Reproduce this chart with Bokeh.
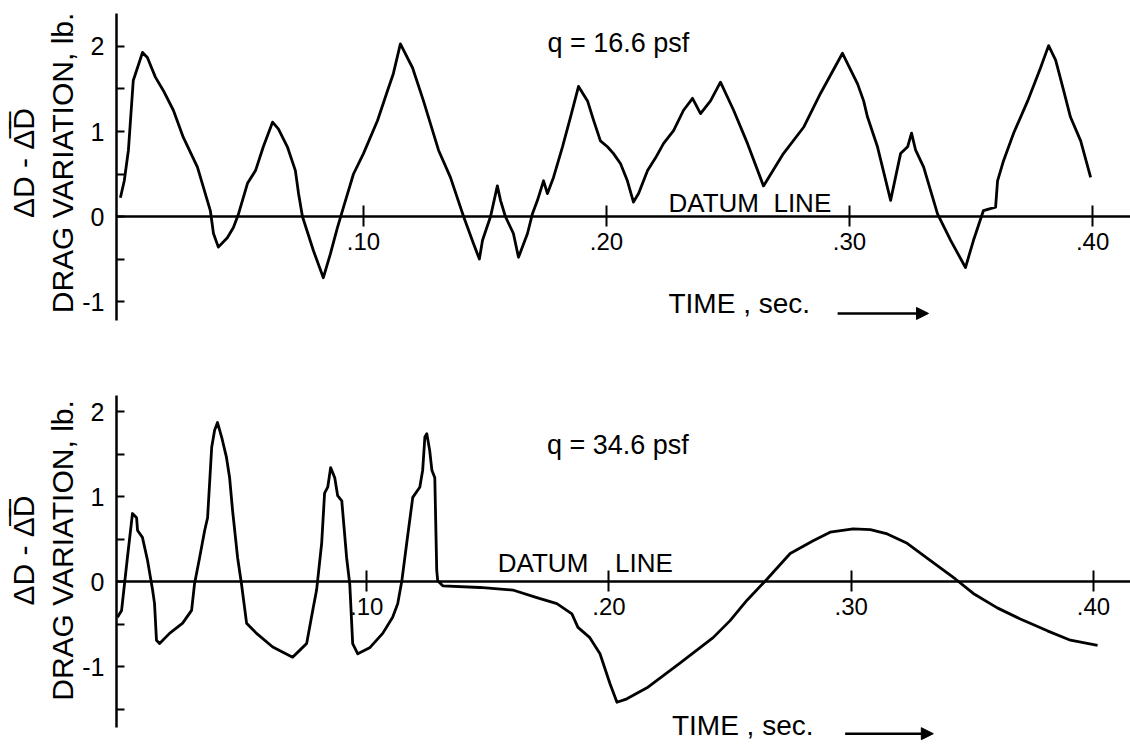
from bokeh.plotting import figure
from bokeh.layouts import column
from bokeh.models import (FixedTicker, Label, Arrow, NormalHead,
                          CustomJSTickFormatter, Range1d)
from bokeh.embed import file_html
from bokeh.resources import INLINE

# ---------------- data ----------------
# upper record, q = 16.6 psf
t_top = [0.0000, 0.0016, 0.0033, 0.0053, 0.0091, 0.0111, 0.0144, 0.0177,
         0.0218, 0.0259, 0.0317, 0.0342, 0.0370, 0.0383, 0.0403, 0.0440,
         0.0465, 0.0486, 0.0523, 0.0556, 0.0588, 0.0626, 0.0650, 0.0687,
         0.0720, 0.0733, 0.0749, 0.0794, 0.0835, 0.0864, 0.0893, 0.0918,
         0.0959, 0.1000, 0.1058, 0.1099, 0.1123, 0.1152, 0.1202, 0.1247,
         0.1309, 0.1358, 0.1412, 0.1453, 0.1477, 0.1490, 0.1523, 0.1551,
         0.1564, 0.1584, 0.1617, 0.1638, 0.1675, 0.1695, 0.1716, 0.1741,
         0.1757, 0.1782, 0.1819, 0.1852, 0.1885, 0.1922, 0.1947, 0.1975,
         0.2004, 0.2029, 0.2058, 0.2086, 0.2111, 0.2132, 0.2169, 0.2202,
         0.2235, 0.2276, 0.2317, 0.2354, 0.2387, 0.2428, 0.2469, 0.2523,
         0.2580, 0.2646, 0.2728, 0.2811, 0.2881, 0.2971, 0.3033, 0.3058,
         0.3074, 0.3115, 0.3169, 0.3210, 0.3239, 0.3255, 0.3272, 0.3305,
         0.3333, 0.3362, 0.3416, 0.3477, 0.3510, 0.3551, 0.3601, 0.3609,
         0.3634, 0.3675, 0.3733, 0.3786, 0.3819, 0.3848, 0.3881, 0.3909,
         0.3951, 0.3992]
v_top = [0.22, 0.42, 0.78, 1.60, 1.93, 1.87, 1.64, 1.48,
         1.25, 0.93, 0.58, 0.34, 0.07, -0.20, -0.36, -0.25,
         -0.13, 0.03, 0.39, 0.54, 0.82, 1.11, 1.03, 0.82,
         0.54, 0.27, 0.00, -0.40, -0.72, -0.44, -0.13, 0.11,
         0.50, 0.74, 1.13, 1.48, 1.68, 2.03, 1.75, 1.36,
         0.78, 0.46, 0.00, -0.32, -0.50, -0.28, 0.00, 0.36,
         0.19, 0.00, -0.20, -0.48, -0.20, 0.03, 0.19, 0.42,
         0.27, 0.46, 0.82, 1.17, 1.53, 1.36, 1.13, 0.89,
         0.82, 0.74, 0.62, 0.42, 0.17, 0.27, 0.54, 0.69,
         0.86, 1.01, 1.25, 1.39, 1.21, 1.36, 1.58, 1.25,
         0.86, 0.36, 0.74, 1.05, 1.45, 1.92, 1.56, 1.36,
         1.17, 0.82, 0.19, 0.74, 0.82, 0.98, 0.78, 0.58,
         0.31, 0.03, -0.28, -0.60, -0.28, 0.07, 0.11, 0.42,
         0.66, 0.98, 1.36, 1.75, 2.01, 1.84, 1.48, 1.17,
         0.89, 0.46]

# lower record, q = 34.6 psf
t_bot = [-0.0029, -0.0012, 0.0012, 0.0033, 0.0050, 0.0054, 0.0074, 0.0095,
         0.0116, 0.0124, 0.0132, 0.0145, 0.0186, 0.0240, 0.0277, 0.0289,
         0.0310, 0.0331, 0.0343, 0.0360, 0.0372, 0.0384, 0.0401, 0.0421,
         0.0434, 0.0446, 0.0467, 0.0483, 0.0504, 0.0545, 0.0612, 0.0694,
         0.0723, 0.0752, 0.0777, 0.0793, 0.0814, 0.0826, 0.0839, 0.0851,
         0.0868, 0.0880, 0.0897, 0.0917, 0.0930, 0.0942, 0.0963, 0.1012,
         0.1066, 0.1107, 0.1128, 0.1145, 0.1165, 0.1190, 0.1219, 0.1231,
         0.1240, 0.1248, 0.1260, 0.1269, 0.1281, 0.1289, 0.1293, 0.1314,
         0.1467, 0.1603, 0.1702, 0.1785, 0.1847, 0.1872, 0.1921, 0.1963,
         0.2004, 0.2033, 0.2074, 0.2157, 0.2293, 0.2430, 0.2500, 0.2570,
         0.2653, 0.2748, 0.2843, 0.2913, 0.3008, 0.3079, 0.3149, 0.3231,
         0.3326, 0.3430, 0.3504, 0.3603, 0.3698, 0.3810, 0.3905, 0.4017]
v_bot = [-0.42, -0.34, 0.28, 0.80, 0.75, 0.60, 0.52, 0.25,
         -0.10, -0.26, -0.69, -0.73, -0.61, -0.49, -0.34, -0.03,
         0.28, 0.60, 0.75, 1.58, 1.78, 1.87, 1.70, 1.46,
         1.22, 0.84, 0.28, -0.03, -0.49, -0.61, -0.77, -0.89,
         -0.81, -0.73, -0.34, -0.10, 0.45, 1.04, 1.11, 1.34,
         1.22, 1.01, 0.95, 0.28, -0.03, -0.73, -0.85, -0.78,
         -0.61, -0.42, -0.26, 0.01, 0.45, 0.99, 1.11, 1.31,
         1.70, 1.74, 1.54, 1.31, 1.22, 0.13, 0.01, -0.05,
         -0.07, -0.10, -0.19, -0.26, -0.38, -0.54, -0.66, -0.85,
         -1.20, -1.42, -1.38, -1.25, -0.96, -0.66, -0.46, -0.22,
         0.03, 0.33, 0.48, 0.58, 0.62, 0.61, 0.56, 0.45,
         0.25, 0.03, -0.14, -0.31, -0.44, -0.58, -0.69, -0.75]

x_ticks = [0.10, 0.20, 0.30, 0.40]
y_major = [-1, 0, 1, 2]
y_minor = [-1.5, -0.5, 0.5, 1.5]

FONT = "Liberation Sans"
Y_LABEL = "\u0394D - \u0394\u0305D\u0305\nDRAG VARIATION, lb."


def panel(t, v, height, b_top, b_bot, xr, yr, ybounds, q_text, q_pos, datum,
          time_pos, arrow_pos):
    p = figure(width=1130, height=height, output_backend="svg", toolbar_location=None,
               x_range=Range1d(*xr), y_range=Range1d(*yr),
               min_border_left=116, min_border_right=0,
               min_border_top=b_top, min_border_bottom=b_bot)
    p.outline_line_color = None
    p.grid.visible = False
    p.background_fill_color = "white"
    p.border_fill_color = "white"

    p.line(t, v, line_width=2.8, color="black", line_join="round")

    xa = p.xaxis[0]
    xa.fixed_location = 0
    xa.ticker = FixedTicker(ticks=x_ticks, minor_ticks=[])
    xa.formatter = CustomJSTickFormatter(code="return '.' + Math.round(tick * 100).toString();")
    xa.axis_line_width = 2.5
    xa.axis_line_color = "black"
    xa.major_tick_in = 11
    xa.major_tick_out = 10
    xa.major_tick_line_width = 2
    xa.major_tick_line_color = "black"
    xa.major_label_text_font = FONT
    xa.major_label_text_font_size = "24px"
    xa.major_label_text_color = "black"
    xa.major_label_standoff = 6

    ya = p.yaxis[0]
    ya.bounds = ybounds
    ya.ticker = FixedTicker(ticks=y_major, minor_ticks=y_minor)
    ya.formatter = CustomJSTickFormatter(code="return tick.toString();")
    ya.axis_line_width = 2.5
    ya.axis_line_color = "black"
    ya.major_tick_in = 8
    ya.major_tick_out = 0
    ya.minor_tick_in = 8
    ya.minor_tick_out = 0
    ya.major_tick_line_width = 2
    ya.minor_tick_line_width = 2
    ya.major_tick_line_color = "black"
    ya.minor_tick_line_color = "black"
    ya.major_label_text_font = FONT
    ya.major_label_text_font_size = "25px"
    ya.major_label_text_color = "black"
    ya.major_label_standoff = 12
    ya.axis_label = Y_LABEL
    ya.axis_label_text_font = FONT
    ya.axis_label_text_font_size = "30px"
    ya.axis_label_text_font_style = "normal"
    ya.axis_label_text_color = "black"
    ya.axis_label_standoff = 0

    p.add_layout(Label(x=q_pos[0], y=q_pos[1], text=q_text, text_font=FONT,
                       text_font_size="27px", text_baseline="middle", text_color="black"))
    for (dx, dy, dt) in datum:
        p.add_layout(Label(x=dx, y=dy, text=dt, text_font=FONT, text_font_size="26px",
                           text_baseline="middle", text_color="black"))
    p.add_layout(Label(x=time_pos[0], y=time_pos[1], text="TIME , sec.", text_font=FONT,
                       text_font_size="28px", text_baseline="middle", text_color="black"))
    p.add_layout(Arrow(x_start=arrow_pos[0], x_end=arrow_pos[1], y_start=arrow_pos[2],
                       y_end=arrow_pos[2], line_width=2.5, line_color="black",
                       end=NormalHead(size=12, fill_color="black", line_color="black")))
    return p


p1 = panel(t_top, v_top, 355, 0, 30, (-0.0016, 0.4156), (-1.282, 2.541), (-1.22, 2.39),
           "q = 16.6 psf", (0.1757, 2.04),
           [(0.2255, 0.16, "DATUM\u00a0\u00a0LINE")],
           (0.2255, -1.02), (0.2951, 0.3325, -1.14))
p2 = panel(t_bot, v_bot, 390, 0, 0, (-0.0033, 0.4153), (-1.929, 2.659), (-1.72, 2.19),
           "q = 34.6 psf", (0.1744, 1.61),
           [(0.1541, 0.22, "DATUM"), (0.2025, 0.22, "LINE")],
           (0.2260, -1.69), (0.2975, 0.3339, -1.79))

layout = column(p1, p2, spacing=0)
open("out.html", "w").write(file_html(layout, INLINE))
